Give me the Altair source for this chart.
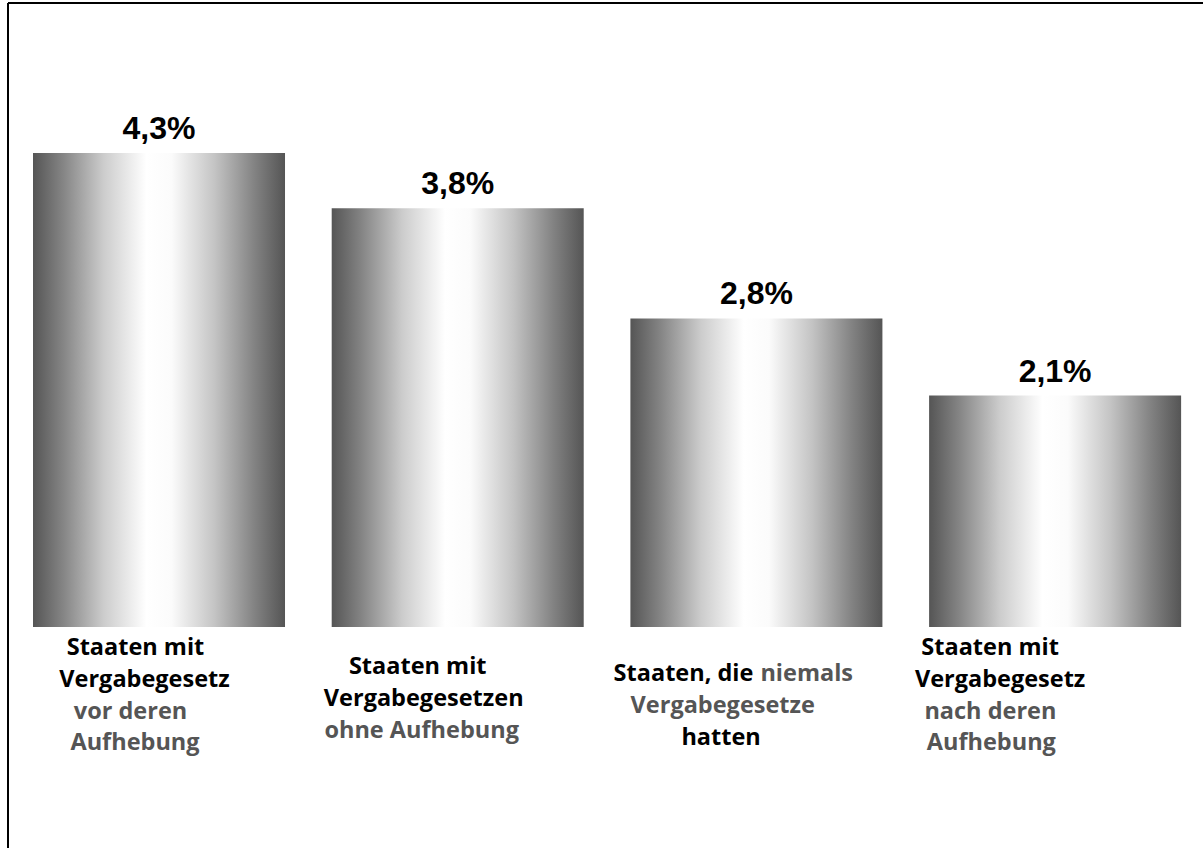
import altair as alt
import pandas as pd

# ---- data ----
categories = ["A", "B", "C", "D"]
values = [4.3, 3.8, 2.8, 2.1]
value_labels = ["4,3%", "3,8%", "2,8%", "2,1%"]

# category label segments: (category, line, text, colour-kind, alignment)
label_cat = ["A", "A", "A", "A", "B", "B", "B", "C", "C", "C", "C", "D", "D", "D", "D"]
label_line = [0, 1, 2, 3, 0, 1, 2, 0, 0, 1, 2, 0, 1, 2, 3]
label_text = ["Staaten mit", "Vergabegesetz", "vor deren", "Aufhebung",
              "Staaten mit", "Vergabegesetzen", "ohne Aufhebung",
              "Staaten, die", "niemals", "Vergabegesetze", "hatten",
              "Staaten mit", "Vergabegesetz", "nach deren", "Aufhebung"]
label_tone = ["k", "k", "g", "g", "k", "k", "g", "k", "g", "g", "k", "k", "k", "g", "g"]
label_align = ["center", "center", "center", "center", "center", "center", "center",
               "right", "left", "center", "center", "center", "center", "center", "center"]

# ---- style ----
label_shift_px = [-23.5, -14.5, -28.5, -24, -40, -34, -36, -3, 4, -33.7, -35.3, -65, -55, -64.7, -63.8]
first_baseline_px = {"A": 28, "B": 47, "C": 54, "D": 28}  # below bar baseline
LINE_H = 31.8
W, H = 1195, 850
X0 = 25          # left edge of first bar inside plot
STEP = 298.7
PAD_INNER = 0.1563
BANDW = STEP * (1 - PAD_INNER)
YMIN, YMAX = -2.051, 5.662
PX_PER_UNIT = H / (YMAX - YMIN)
GRAY = "#555555"

bars = pd.DataFrame({"cat": categories, "value": values, "label": value_labels})

rows = []
for c, ln, t, tone, al, sh in zip(label_cat, label_line, label_text, label_tone, label_align, label_shift_px):
    px_below = first_baseline_px[c] + ln * LINE_H
    rows.append({"cat": c, "text": t, "color": "#000000" if tone == "k" else GRAY,
                 "align": al, "shift": sh + BANDW / 2, "ly": -px_below / PX_PER_UNIT})
labels = pd.DataFrame(rows)

xscale = alt.Scale(domain=categories, paddingInner=PAD_INNER, paddingOuter=0,
                   range=[X0, X0 + STEP * (len(categories) - PAD_INNER)])
yscale = alt.Scale(domain=[YMIN, YMAX], nice=False, zero=False)

grad = alt.Gradient(
    gradient="linear", x1=0, x2=1, y1=0, y2=0,
    stops=[
        alt.GradientStop(offset=0.0, color="#555555"),
        alt.GradientStop(offset=0.12, color="#858585"),
        alt.GradientStop(offset=0.28, color="#cccccc"),
        alt.GradientStop(offset=0.45, color="#ffffff"),
        alt.GradientStop(offset=0.55, color="#fbfbfb"),
        alt.GradientStop(offset=0.72, color="#c4c4c4"),
        alt.GradientStop(offset=0.88, color="#828282"),
        alt.GradientStop(offset=1.0, color="#555555"),
    ],
)

x_enc = alt.X("cat:N", scale=xscale, axis=None)

frame_top = alt.Chart(bars).mark_rule(color="#000000", strokeWidth=2).encode(
    x=alt.value(0), x2=alt.value(W), y=alt.value(0)
)
frame_left = alt.Chart(bars).mark_rule(color="#000000", strokeWidth=2).encode(
    x=alt.value(0), y=alt.value(0), y2=alt.value(H)
)

bar_layer = alt.Chart(bars).mark_bar(color=grad).encode(
    x=x_enc,
    y=alt.Y("value:Q", scale=yscale, axis=None),
    y2=alt.datum(0),
)

value_layer = alt.Chart(bars).mark_text(
    font="Liberation Sans", fontWeight="bold", fontSize=32, dy=-14,
    baseline="alphabetic", align="center", color="#000000",
).encode(
    x=x_enc,
    y=alt.Y("value:Q", scale=yscale, axis=None),
    text="label:N",
)

label_layers = []
for al in ["center", "right", "left"]:
    label_layers.append(
        alt.Chart(labels[labels["align"] == al]).mark_text(
            font="Open Sans", fontWeight="bold", fontSize=23.5,
            baseline="alphabetic", align=al,
        ).encode(
            x=x_enc,
            xOffset=alt.XOffset("shift:Q", scale=None),
            y=alt.Y("ly:Q", scale=yscale, axis=None),
            text="text:N",
            color=alt.Color("color:N", scale=None),
        )
    )

chart = alt.layer(frame_top, frame_left, bar_layer, value_layer, *label_layers).properties(
    width=W, height=H,
    padding={"left": 8, "top": 3, "right": 0, "bottom": 0},
    autosize=alt.AutoSizeParams(type="none"),
    background="#ffffff",
).configure_view(strokeWidth=0)

chart.save("out.html", embed_options={"renderer": "svg", "actions": False})
